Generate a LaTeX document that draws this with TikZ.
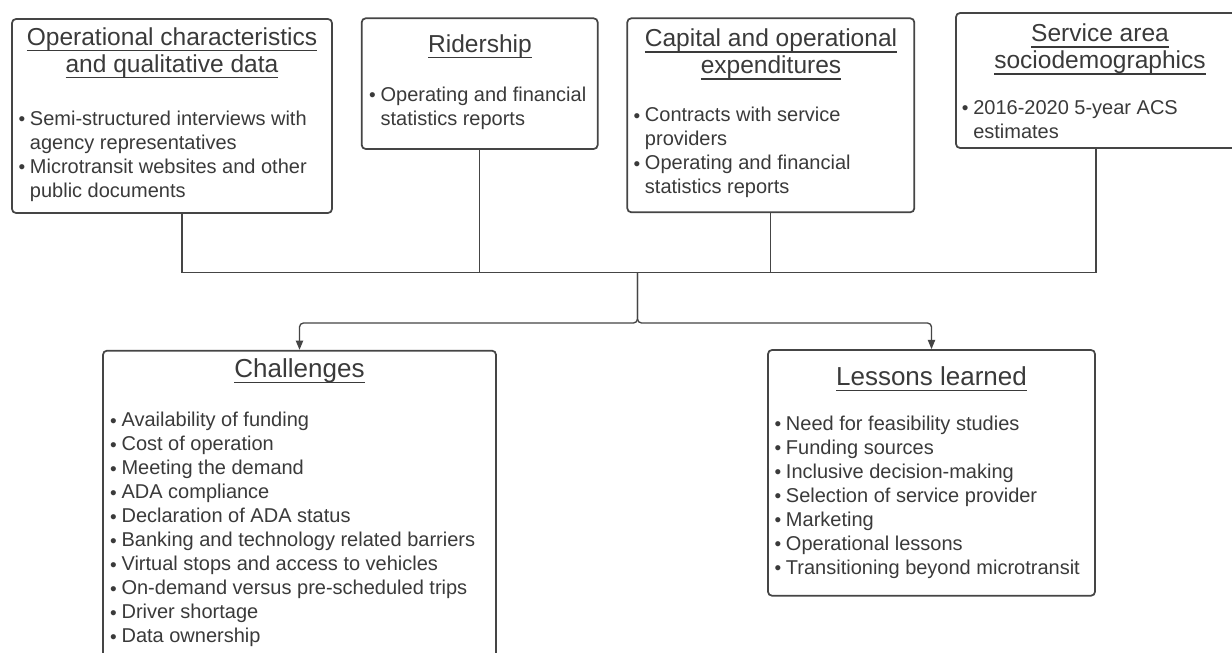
\documentclass[tikz,border=0pt]{standalone}
\usepackage{fontspec}
\setmainfont{Liberation Sans}
\usepackage{graphicx}
\usetikzlibrary{arrows.meta}
\definecolor{ink}{HTML}{3A3A3A}
\definecolor{edge}{HTML}{454545}
\newsavebox{\ulinebox}
\newcommand{\undl}[1]{\sbox{\ulinebox}{#1}\rlap{\rule[-4.3pt]{\wd\ulinebox}{0.9pt}}\usebox{\ulinebox}}
\newcommand{\bitem}[1]{\makebox[9pt][l]{\makebox[6pt][c]{\raisebox{-0.2pt}{\scalebox{0.95}{\textbullet}}}}#1}
\newcommand{\cont}[1]{\hspace*{9pt}#1}
\begin{document}
\begin{tikzpicture}[x=0.75pt,y=-0.75pt,
  box/.style={draw=edge, line width=1.3pt, rounded corners=3pt, inner sep=0pt},
  conn/.style={draw=edge, line width=1pt},
  tip/.style={-{Triangle[length=7pt,width=5.5pt]}},
  ttl/.style={inner sep=0pt, text=ink, align=center, font=\fontsize{18.4}{20.25}\selectfont},
  ttlb/.style={inner sep=0pt, text=ink, align=center, font=\fontsize{19.5}{21}\selectfont},
  lst/.style={inner sep=0pt, text=ink, align=left, font=\fontsize{15}{18}\selectfont}]
\useasboundingbox (0,0) rectangle (1232,653);
\clip (0,0) rectangle (1232,653);
\fill[white] (0,0) rectangle (1232,653);
% boxes
\node[box, minimum width=240pt, minimum height=145.5pt] (b1) at (172,116) {};
\node[box, minimum width=177pt, minimum height=98pt] (b2) at (479.7,83.65) {};
\node[box, minimum width=215.25pt, minimum height=145.5pt] (b3) at (770.8,115.3) {};
\node[box, minimum width=216pt, minimum height=101.25pt] (b4) at (1100,80.5) {};
\node[box, minimum width=294.75pt, minimum height=236.25pt] (ch) at (299.5,508.2) {};
\node[box, minimum width=245.25pt, minimum height=184.3pt] (ll) at (931.5,472.85) {};
% titles
\node[ttl, anchor=north] (t1) at (172,27.1) {\undl{Operational characteristics}\\\undl{and qualitative data}};
\node[ttl, anchor=north] (t2) at (480,34.4) {\undl{Ridership}};
\node[ttl, anchor=north] (t3) at (771,28.8) {\undl{Capital and operational}\\\undl{expenditures}};
\node[ttl, anchor=north] (t4) at (1100,23.8) {\undl{Service area}\\\undl{sociodemographics}};
\node[ttlb, anchor=north] (t5) at (299.5,358.5) {\undl{Challenges}};
\node[ttlb, anchor=north] (t6) at (931.5,366) {\undl{Lessons learned}};
% lists
\node[lst, anchor=north west] (l1) at (17.7,110.4) {\bitem{Semi-structured interviews with}\\\cont{agency representatives}\\\bitem{Microtransit websites and other}\\\cont{public documents}};
\node[lst, anchor=north west] (l2) at (368.3,86.4) {\bitem{Operating and financial}\\\cont{statistics reports}};
\node[lst, anchor=north west] (l3) at (632.7,107) {\bitem{Contracts with service}\\\cont{providers}\\\bitem{Operating and financial}\\\cont{statistics reports}};
\node[lst, anchor=north west] (l4) at (961,100.4) {\bitem{2016-2020 5-year ACS}\\\cont{estimates}};
\node[lst, anchor=north west] (l5) at (109.3,412) {\bitem{Availability of funding}\\\bitem{Cost of operation}\\\bitem{Meeting the demand}\\\bitem{ADA compliance}\\\bitem{Declaration of ADA status}\\\bitem{Banking and technology related barriers}\\\bitem{Virtual stops and access to vehicles}\\\bitem{On-demand versus pre-scheduled trips}\\\bitem{Driver shortage}\\\bitem{Data ownership}};
\node[lst, anchor=north west] (l6) at (773.7,415.4) {\bitem{Need for feasibility studies}\\\bitem{Funding sources}\\\bitem{Inclusive decision-making}\\\bitem{Selection of service provider}\\\bitem{Marketing}\\\bitem{Operational lessons}\\\bitem{Transitioning beyond microtransit}};
% connectors
\coordinate (j1) at (182,272.5);
\coordinate (j4) at (1096,272.5);
\coordinate (jc) at (637.5,272.5);
\coordinate (sp) at (637.5,323);
\draw[conn] (b1.south -| j1) -- (j1) -- (j4) -- (b4.south -| j4);
\draw[conn] (b2.south) -- (b2.south |- j1);
\draw[conn] (b3.south) -- (b3.south |- j1);
\draw[conn, tip, rounded corners=3pt] (jc) -- (sp) -| (ch.north);
\draw[conn, tip, rounded corners=3pt] (jc) -- (sp) -| (ll.north);
\end{tikzpicture}
\end{document}
